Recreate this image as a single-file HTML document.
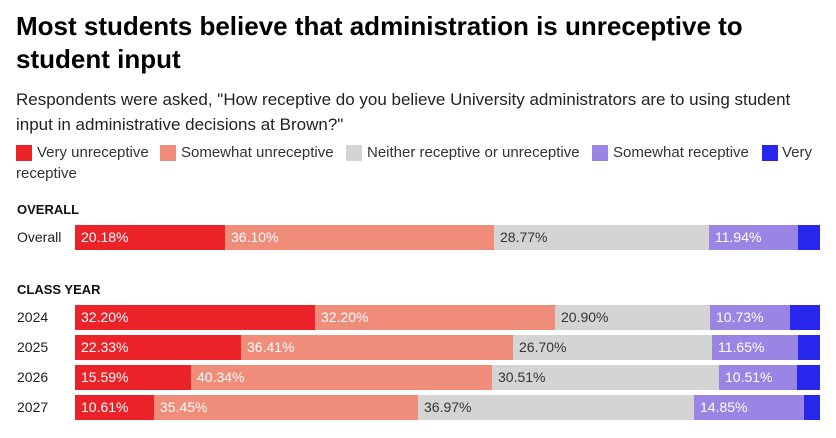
<!DOCTYPE html>
<html><head><meta charset="utf-8"><style>
body{margin:0;width:836px;height:438px;background:#fff;font-family:"Liberation Sans",sans-serif;color:#000;position:relative;overflow:hidden}
.a{position:absolute;white-space:nowrap}
#title{left:16px;top:10px;font-size:26px;font-weight:bold;line-height:33px}
#sub{left:16px;top:87px;font-size:17px;line-height:25px;color:#222}
.sw{position:absolute;width:16px;height:16px;top:145px}
.lg{position:absolute;font-size:15px;color:#333;top:144px}
.sec{position:absolute;left:17px;font-size:13px;font-weight:bold;color:#111}
.rl{position:absolute;left:17px;font-size:14px;color:#222}
.seg{position:absolute;height:24.5px;font-size:14px;line-height:24px;box-sizing:border-box;padding-left:6px;overflow:hidden;white-space:nowrap}
</style></head><body>
<div class="a" id="title">Most students believe that administration is unreceptive to<br>student input</div>
<div class="a" id="sub">Respondents were asked, "How receptive do you believe University administrators are to using student<br>input in administrative decisions at Brown?"</div>
<div>
<div class="sw" style="left:16px;background:#ec2229"></div><div class="lg" style="left:37px">Very unreceptive</div>
<div class="sw" style="left:160px;background:#ef8c7a"></div><div class="lg" style="left:181px">Somewhat unreceptive</div>
<div class="sw" style="left:346px;background:#d4d4d4"></div><div class="lg" style="left:367px">Neither receptive or unreceptive</div>
<div class="sw" style="left:592px;background:#9a84e4"></div><div class="lg" style="left:613px">Somewhat receptive</div>
<div class="sw" style="left:762px;background:#2727ee"></div><div class="lg" style="left:782px">Very</div>
<div class="lg" style="left:16px;top:165px">receptive</div>
</div>
<div class="sec" style="top:202px">OVERALL</div>
<div class="sec" style="top:282px">CLASS YEAR</div>
<div id="chart"></div>
<script>
const rowLabels=["Overall","2024","2025","2026","2027"];
const veryUnreceptive=[20.18,32.20,22.33,15.59,10.61];
const somewhatUnreceptive=[36.10,32.20,36.41,40.34,35.45];
const neither=[28.77,20.90,26.70,30.51,36.97];
const somewhatReceptive=[11.94,10.73,11.65,10.51,14.85];
const veryReceptive=[3.01,3.97,2.91,3.05,2.12];
const series=[veryUnreceptive,somewhatUnreceptive,neither,somewhatReceptive,veryReceptive];
const colors=["#ec2229","#ef8c7a","#d4d4d4","#9a84e4","#2727ee"];
const textColors=["#fff","#fff","#333","#fff","#fff"];
const segNames=["very-unreceptive","somewhat-unreceptive","neither","somewhat-receptive","very-receptive"];
const rowTops=[225,305,335,365,395];
const x0=75,W=745;
function xScale(v){return v/100*W;}
const chart=document.getElementById('chart');
rowLabels.forEach((lab,i)=>{
  const l=document.createElement('div');l.className='rl';
  l.style.top=(rowTops[i]+4)+'px';l.textContent=lab;
  
  
  chart.appendChild(l);
  let total=series.reduce((s,a)=>s+a[i],0);
  let acc=0;
  series.forEach((arr,j)=>{
    const v=arr[i]/total*100;
    const s=document.createElement('div');s.className='seg';
    const a=Math.round(x0+xScale(acc)),b=Math.round(x0+xScale(acc+v));
    s.style.left=a+'px';s.style.width=(b-a)+'px';s.style.top=rowTops[i]+'px';
    s.style.background=colors[j];s.style.color=textColors[j];
    if(j<4)s.textContent=arr[i].toFixed(2)+'%';
    
    
    chart.appendChild(s);
    acc+=v;
  });
});
</script>
</body></html>
